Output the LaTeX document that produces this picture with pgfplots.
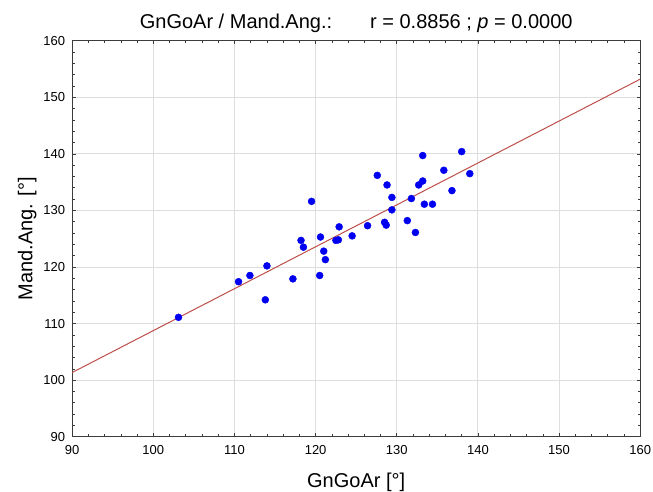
\documentclass[border=0pt]{standalone}
\usepackage{fontspec}
\setmainfont{Liberation Sans}
\usepackage{pgfplots}
\pgfplotsset{compat=1.18}
\definecolor{dotblue}{RGB}{0,0,240}
\definecolor{fitred}{RGB}{190,78,74}
\definecolor{gridgray}{RGB}{222,222,222}
\definecolor{axgray}{RGB}{60,60,60}

\begin{document}
\begin{tikzpicture}
\path[use as bounding box] (-72.2pt,-54.3pt) rectangle (580.8pt,436.7pt);
\begin{axis}[
  name=ax,scale only axis,width=568pt,height=396pt,
  xmin=90,xmax=160,ymin=90,ymax=160,
  xtick={90,100,...,160},ytick={90,100,...,160},
  minor tick num=4,
  tick align=inside,major tick length=3.5pt,minor tick length=2.5pt,
  tick style={axgray,line width=0.6pt},
  axis line style={axgray,line width=1pt},
  grid=major,grid style={gridgray,line width=0.9pt},
  /pgf/number format/assume math mode=true,
  tick label style={font=\fontsize{13}{15}\selectfont,inner sep=0pt},
  xticklabel style={yshift=-9pt},
  yticklabel style={xshift=-7pt},
  clip=true]
\addplot[fitred,line width=1pt] coordinates {(90,101.35) (160,153.2)};
\addplot[only marks,mark=*,mark size=3.5pt,
  mark options={fill=dotblue,draw=dotblue}] coordinates {
(103.1,111.1) (110.5,117.4) (111.9,118.5) (113.8,114.2) (114.0,120.2)
(117.2,117.9) (118.2,124.7) (118.5,123.5) (119.5,131.6) (120.5,118.5)
(120.6,125.3) (121.0,122.8) (121.2,121.3) (122.5,124.7) (122.8,124.8)
(122.9,127.1) (124.5,125.5) (126.4,127.3) (127.6,136.2) (128.5,127.9)
(128.7,127.4) (128.8,134.5) (129.4,132.3) (129.4,130.1) (131.3,128.2)
(131.8,132.1) (132.3,126.1) (132.7,134.5) (133.2,135.2) (133.2,139.7)
(133.4,131.1) (134.4,131.1) (135.8,137.1) (136.8,133.5) (138.0,140.4)
(139.0,136.5)};
\end{axis}
\node[anchor=base,inner sep=0pt,font=\fontsize{20}{24}\selectfont]
  at ([yshift=12.7pt]ax.north) {GnGoAr / Mand.Ang.:\hspace{38pt}r = 0.8856 ; \textit{p} = 0.0000};
\node[anchor=base,inner sep=0pt,font=\fontsize{20}{24}\selectfont]
  at ([yshift=-50.5pt]ax.south) {GnGoAr [°]};
\node[anchor=base,rotate=90,inner sep=0pt,font=\fontsize{20}{24}\selectfont]
  at ([xshift=-39.7pt]ax.west) {Mand.Ang. [°]};
\end{tikzpicture}
\end{document}
